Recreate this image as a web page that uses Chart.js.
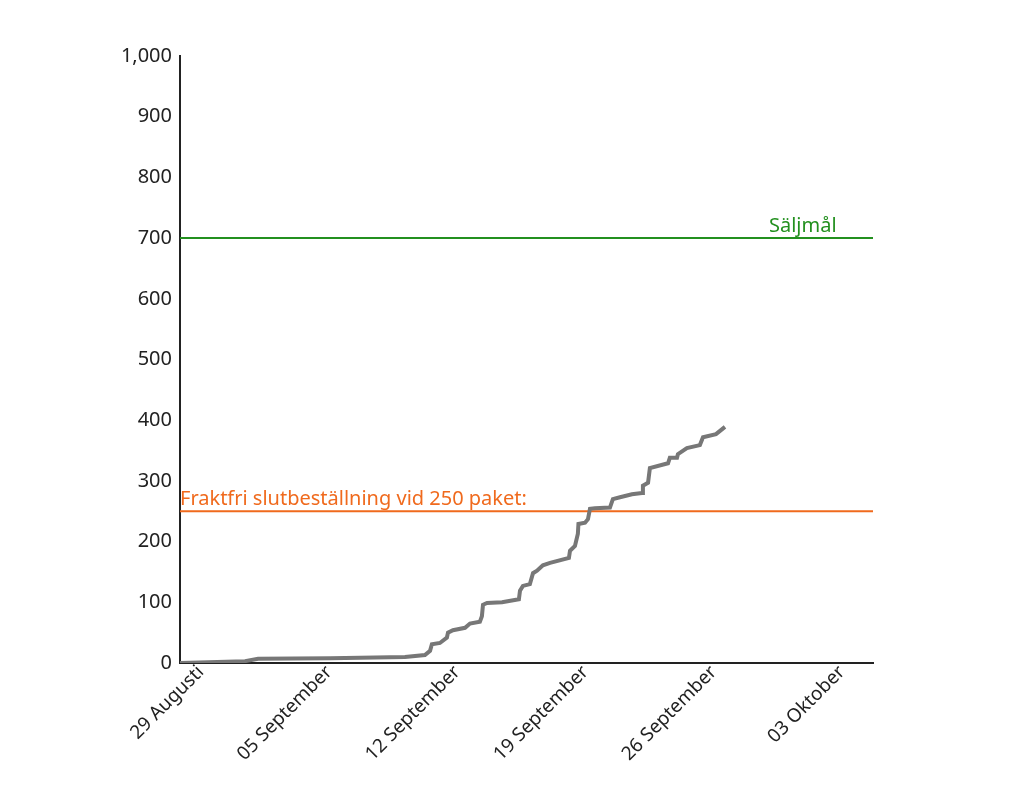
<!DOCTYPE html>
<html>
<head>
<meta charset="utf-8">
<script src="https://cdn.jsdelivr.net/npm/chart.js@4.4.1/dist/chart.umd.min.js"></script>
<style>
  html, body { margin: 0; padding: 0; background: #fff; }
  #wrap { width: 1024px; height: 805px; }
</style>
</head>
<body>
<div id="wrap"><canvas id="c"></canvas></div>
<script>
// x values are days counted from 29 Augusti (00:00)
const tickDays = [0, 7, 14, 21, 28, 35];
const tickLabels = ['29 Augusti', '05 September', '12 September', '19 September', '26 September', '03 Oktober'];
const xMin = -1.14;
const xMax = 36.69;

const salesDays = [-1.14, 2.41, 3.12, 7.05, 11.14, 12.23, 12.51, 12.61, 13.05, 13.43, 13.49, 13.76, 14.42, 14.69,
  15.23, 15.34, 15.40, 15.62, 16.44, 17.36, 17.42, 17.58, 17.96, 18.13, 18.35, 18.67, 19.06, 20.09,
  20.15, 20.42, 20.58, 20.61, 20.97, 21.13, 21.24, 21.51, 22.33, 22.49, 22.88, 23.53, 24.08, 24.13,
  24.41, 24.51, 25.50, 25.60, 25.99, 26.04, 26.53, 27.24, 27.41, 28.12, 28.61];
const salesTotals = [0, 3, 7, 8, 10, 13, 20, 31, 33, 42, 50, 54, 58, 65,
  68, 77, 96, 99, 100, 105, 119, 127, 130, 148, 152, 161, 165, 173,
  185, 193, 213, 229, 231, 237, 254, 255, 256, 270, 273, 278, 280, 292,
  297, 321, 329, 338, 338, 344, 354, 359, 372, 377, 389];

const goalValue = 700;
const goalLabel = 'Säljmål';
const freightValue = 250;
const freightLabel = 'Fraktfri slutbeställning vid 250 paket:';

const yTicks = { min: 0, max: 1000, step: 100 };

const salesPoints = salesDays.map((d, i) => ({ x: d, y: salesTotals[i] }));

const FONT = '"Noto Sans", "Open Sans", sans-serif';

const labelPlugin = {
  id: 'lineLabels',
  afterDatasetsDraw(chart) {
    const { ctx, scales } = chart;
    const xs = scales.x, ys = scales.y;
    ctx.save();
    ctx.textBaseline = 'alphabetic';
    ctx.textAlign = 'left';
    ctx.font = '20px ' + FONT;
    ctx.fillStyle = '#23901f';
    ctx.fillText(goalLabel, 769, ys.getPixelForValue(goalValue) - 6);
    ctx.fillStyle = '#f06a1d';
    ctx.font = '20px ' + FONT;
    ctx.fillText(freightLabel, xs.left, ys.getPixelForValue(freightValue) - 6);
    ctx.restore();
  }
};

new Chart(document.getElementById('c'), {
  type: 'line',
  data: {
    datasets: [
      {
        label: 'Sålda paket',
        data: salesPoints,
        borderColor: '#777777',
        borderWidth: 4,
        pointRadius: 0,
        fill: false,
        tension: 0
      },
      {
        label: goalLabel,
        data: [{ x: xMin, y: goalValue }, { x: xMax, y: goalValue }],
        borderColor: '#23901f',
        borderWidth: 2,
        pointRadius: 0,
        fill: false
      },
      {
        label: freightLabel,
        data: [{ x: xMin, y: freightValue }, { x: xMax, y: freightValue }],
        borderColor: '#f06a1d',
        borderWidth: 2,
        pointRadius: 0,
        fill: false
      }
    ]
  },
  options: {
    responsive: true,
    maintainAspectRatio: false,
    animation: false,
    locale: 'en-US',
    layout: { padding: { left: 0, right: 151, top: 56, bottom: 0 } },
    plugins: { legend: { display: false }, tooltip: { enabled: false } },
    scales: {
      x: {
        type: 'linear',
        min: xMin,
        max: xMax,
        grid: { display: false, drawTicks: false },
        border: { display: true, color: '#222', width: 2 },
        afterBuildTicks(scale) { scale.ticks = tickDays.map(v => ({ value: v })); },
        afterFit(scale) { scale.height = 142; },
        ticks: {
          autoSkip: false,
          maxRotation: 45,
          minRotation: 45,
          padding: -2,
          color: '#222',
          font: { family: FONT, size: 19 },
          callback(value) { const i = tickDays.indexOf(value); return i >= 0 ? tickLabels[i] : ''; }
        }
      },
      y: {
        type: 'linear',
        min: yTicks.min,
        max: yTicks.max,
        grid: { display: false },
        border: { display: true, color: '#222', width: 2 },
        afterFit(scale) { scale.width = 180; },
        ticks: {
          stepSize: yTicks.step,
          color: '#222',
          padding: 0,
          font: { family: FONT, size: 20 }
        }
      }
    }
  },
  plugins: [labelPlugin]
});
</script>
</body>
</html>
